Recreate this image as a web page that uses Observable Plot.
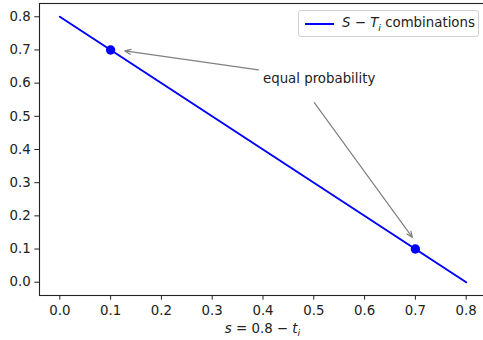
<!DOCTYPE html>
<html>
<head>
<meta charset="utf-8">
<script src="https://cdn.jsdelivr.net/npm/d3@7"></script>
<script src="https://cdn.jsdelivr.net/npm/@observablehq/plot@0.6"></script>
<style>
  html, body { margin: 0; padding: 0; background: #fff; overflow: hidden; width: 483px; height: 340px; }
  #wrap { position: relative; width: 483px; height: 340px; overflow: hidden; font-family: "DejaVu Sans", sans-serif; }
  #wrap svg { max-width: none !important; display: block; }
  #legend { position: absolute; left: 298px; top: 10px; width: 181px; height: 27px; box-sizing: border-box;
    border: 1px solid #d0d0d0; border-radius: 3px; background: rgba(255,255,255,0.8);
    font-size: 13.33px; color: #222; display: flex; align-items: center; white-space: nowrap; }
  #legend .swatch { width: 29px; height: 2px; background: #0000ff; margin-left: 6px; margin-right: 8px; }
  #legend sub { font-size: 9.5px; }
</style>
</head>
<body>
<div id="wrap"></div>
<script>
// line of S - T_i combinations (endpoints)
const lineX = [0.0, 0.8];
const lineY = [0.8, 0.0];
// equal-probability points
const eqX = [0.1, 0.7];
const eqY = [0.7, 0.1];
// annotation
const annText = ["equal probability"];
const annX = [0.4];
const annY = [0.6];
// annotation arrows (from -> to)
const arrFromX = [0.391, 0.501];
const arrFromY = [0.640, 0.541];
const arrToX = [0.128, 0.694];
const arrToY = [0.697, 0.135];
// ticks
const xTicks = [0.0, 0.1, 0.2, 0.3, 0.4, 0.5, 0.6, 0.7, 0.8];
const yTicks = [0.0, 0.1, 0.2, 0.3, 0.4, 0.5, 0.6, 0.7, 0.8];

const lineData = lineX.map((x, i) => ({x, y: lineY[i]}));
const eqData = eqX.map((x, i) => ({x, y: eqY[i]}));
const arrData = arrFromX.map((x1, i) => ({x1, y1: arrFromY[i], x2: arrToX[i], y2: arrToY[i]}));
const annData = annText.map((t, i) => ({t, x: annX[i], y: annY[i]}));

const fmt = d3.format(".1f");
const plot = Plot.plot({
  width: 486,
  height: 340,
  marginLeft: 39,
  marginRight: 0,
  marginTop: 3,
  marginBottom: 45,
  style: { fontFamily: "DejaVu Sans, sans-serif", fontSize: "13.33px", color: "#222", background: "#fff", overflow: "visible" },
  x: { domain: [-0.04, 0.84], ticks: xTicks, tickFormat: fmt, label: null },
  y: { domain: [-0.04, 0.84], ticks: yTicks, tickFormat: fmt, label: null },
  marks: [
    Plot.axisX({ticks: xTicks, tickFormat: fmt, tickSize: 4.7, tickPadding: 5, label: null, stroke: "#222", fill: "#222", fontSize: 13.33}),
    Plot.axisY({ticks: yTicks, tickFormat: fmt, tickSize: 4.7, tickPadding: 4, label: null, stroke: "#222", fill: "#222", fontSize: 13.33}),
    Plot.line(lineData, {x: "x", y: "y", stroke: "#0000ff", strokeWidth: 2}),
    Plot.dot(eqData, {x: "x", y: "y", r: 4.7, fill: "#0000ff", stroke: "none"}),
    Plot.arrow(arrData, {x1: "x1", y1: "y1", x2: "x2", y2: "y2", stroke: "#808080", strokeWidth: 1.2, headLength: 8, headAngle: 45}),
    Plot.text(annData, {x: "x", y: "y", text: "t", textAnchor: "start", dy: -4, fontSize: 13.33, fill: "#222"}),
    Plot.frame({stroke: "#222", strokeWidth: 1.1})
  ]
});

// x-axis label with italic/subscript parts
const svg = d3.select(plot);
const lab = svg.append("text")
  .attr("x", (39 + 486) / 2)
  .attr("y", 333)
  .attr("text-anchor", "middle")
  .attr("font-size", 13.33)
  .attr("fill", "#222");
lab.append("tspan").attr("font-style", "italic").text("s");
lab.append("tspan").text(" = 0.8 − ");
lab.append("tspan").attr("font-style", "italic").text("t");
lab.append("tspan").attr("font-style", "italic").attr("font-size", 9.5).attr("dy", 3).text("i");

const wrap = document.getElementById("wrap");
wrap.appendChild(plot);
const legend = document.createElement("div");
legend.id = "legend";
legend.innerHTML = '<div class="swatch"></div><span><i>S</i> − <i>T<sub>i</sub></i> combinations</span>';
wrap.appendChild(legend);
</script>
</body>
</html>
